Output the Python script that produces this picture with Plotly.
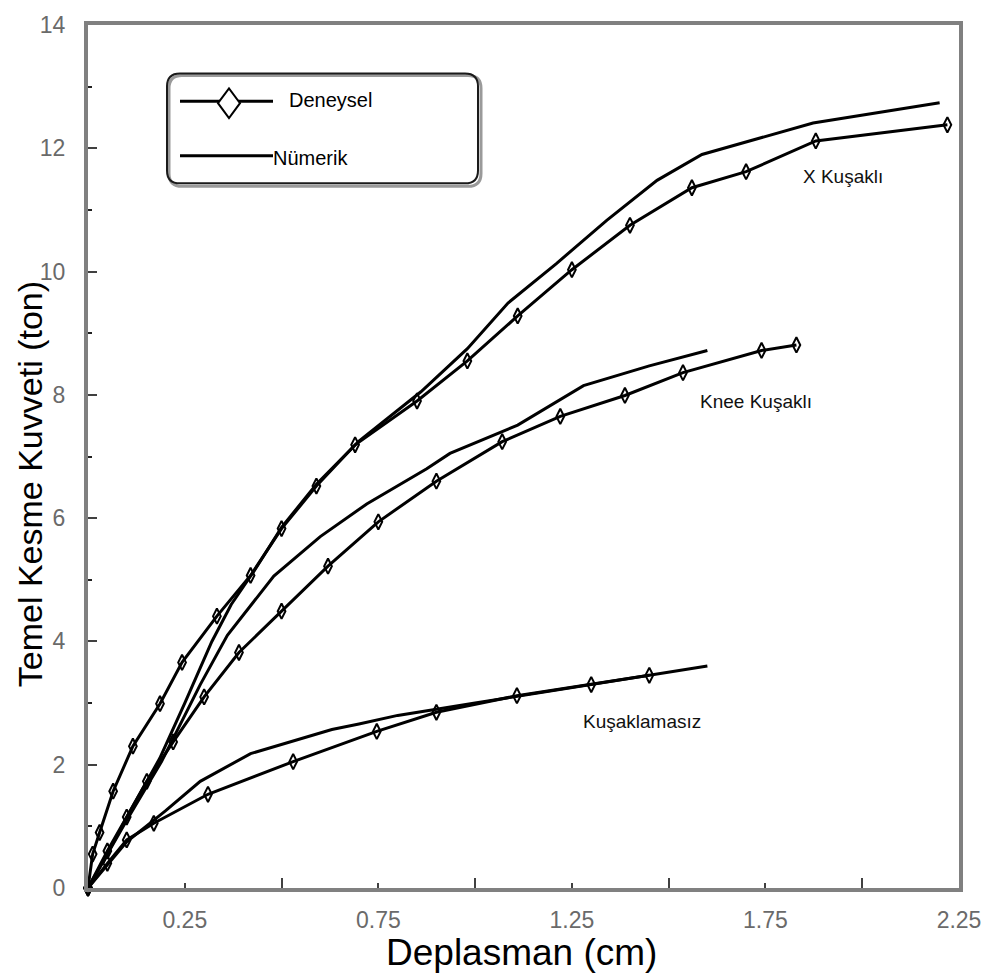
import plotly.graph_objects as go

# ---------------- data ----------------
x_exp_x = [0, 0.012, 0.03, 0.065, 0.116, 0.186, 0.243, 0.333, 0.42, 0.50, 0.59, 0.69, 0.85, 0.98, 1.11, 1.25, 1.40, 1.56, 1.70, 1.88, 2.22]
y_exp_x = [0, 0.55, 0.9, 1.57, 2.3, 2.99, 3.66, 4.41, 5.07, 5.83, 6.52, 7.19, 7.9, 8.55, 9.28, 10.03, 10.75, 11.36, 11.62, 12.12, 12.38]

x_num_x = [0, 0.05, 0.10, 0.185, 0.25, 0.32, 0.37, 0.43, 0.50, 0.59, 0.70, 0.86, 0.98, 1.085, 1.21, 1.34, 1.47, 1.586, 1.873, 2.20]
y_num_x = [0, 0.55, 1.15, 2.1, 3.0, 4.0, 4.6, 5.15, 5.85, 6.55, 7.25, 8.05, 8.75, 9.49, 10.13, 10.83, 11.48, 11.9, 12.41, 12.74]

x_exp_knee = [0, 0.05, 0.10, 0.152, 0.22, 0.30, 0.39, 0.50, 0.62, 0.75, 0.90, 1.07, 1.22, 1.387, 1.537, 1.74, 1.83]
y_exp_knee = [0, 0.6, 1.15, 1.73, 2.37, 3.1, 3.82, 4.49, 5.22, 5.94, 6.6, 7.24, 7.65, 7.99, 8.36, 8.72, 8.81]

x_num_knee = [0, 0.05, 0.10, 0.19, 0.29, 0.36, 0.48, 0.60, 0.72, 0.875, 0.935, 1.11, 1.28, 1.45, 1.60]
y_num_knee = [0, 0.55, 1.1, 2.05, 3.3, 4.1, 5.06, 5.70, 6.23, 6.8, 7.05, 7.51, 8.15, 8.47, 8.72]

x_exp_unb = [0, 0.05, 0.10, 0.17, 0.31, 0.53, 0.746, 0.90, 1.108, 1.30, 1.45]
y_exp_unb = [0, 0.4, 0.78, 1.05, 1.52, 2.05, 2.54, 2.85, 3.12, 3.3, 3.45]

x_num_unb = [0, 0.10, 0.20, 0.29, 0.42, 0.63, 0.70, 0.80, 1.0, 1.2, 1.4, 1.60]
y_num_unb = [0, 0.75, 1.25, 1.73, 2.18, 2.57, 2.66, 2.8, 3.0, 3.2, 3.4, 3.6]

x_ticklabels = [0.25, 0.75, 1.25, 1.75, 2.25]
x_minor = [0.5, 1.0, 1.5, 2.0]
y_ticklabels = [0, 2, 4, 6, 8, 10, 12, 14]
y_minor = [1, 3, 5, 7, 9, 11, 13]

curve_labels = ["X Kuşaklı", "Knee Kuşaklı", "Kuşaklamasız"]
curve_label_x = [1.95, 1.725, 1.43]
curve_label_y = [11.55, 7.9, 2.7]

legend_names = ["Deneysel", "Nümerik"]

# ---------------- figure ----------------
W, H = 994, 980
L, R, T, B = 88, 35, 16, 92
PW, PH = W - L - R, H - T - B

def px(xp):
    return (xp - L) / PW

def py(yp):
    return (H - B - yp) / PH

fig = go.Figure()

line_style = dict(color="black", width=3)
marker_style = dict(symbol="diamond-tall-open", size=11, color="black", line=dict(width=2, color="black"))

for xs, ys in [(x_num_x, y_num_x), (x_num_knee, y_num_knee), (x_num_unb, y_num_unb)]:
    fig.add_trace(go.Scatter(x=xs, y=ys, mode="lines", line=line_style, showlegend=False,
                             name=legend_names[1]))
for xs, ys in [(x_exp_x, y_exp_x), (x_exp_knee, y_exp_knee), (x_exp_unb, y_exp_unb)]:
    fig.add_trace(go.Scatter(x=xs, y=ys, mode="lines+markers", line=line_style, marker=marker_style,
                             showlegend=False, name=legend_names[0], cliponaxis=False))

axis_common = dict(
    showline=True, linecolor="#808080", linewidth=4, mirror=True,
    ticks="inside", tickcolor="#404040", tickwidth=2,
    showgrid=False, zeroline=False,
    tickfont=dict(family="Arial", size=23, color="#6a6a6a"),
)

fig.update_xaxes(range=[0, 2.25], tickvals=x_ticklabels, ticktext=[f"{v:.2f}" for v in x_ticklabels],
                 ticklen=5, ticklabelstandoff=8,
                 minor=dict(tickvals=x_minor, ticks="inside", ticklen=10, tickcolor="#404040", tickwidth=2),
                 **axis_common)
fig.update_yaxes(range=[0, 14], tickvals=y_ticklabels, ticklen=9, ticklabelstandoff=14,
                 minor=dict(tickvals=y_minor, ticks="inside", ticklen=4, tickcolor="#202020", tickwidth=2),
                 **axis_common)

annotations = []
for t, xv, yv in zip(curve_labels, curve_label_x, curve_label_y):
    annotations.append(dict(x=xv, y=yv, xref="x", yref="y", text=t, showarrow=False,
                            xanchor="center", yanchor="middle",
                            font=dict(family="Arial", size=19, color="#111111")))

# axis titles
annotations.append(dict(x=px(521), y=py(953), xref="paper", yref="paper", text="Deplasman (cm)",
                        xanchor="center", yanchor="middle",
                        showarrow=False, font=dict(family="Arial", size=37, color="black")))
annotations.append(dict(x=px(30), y=py(480), xref="paper", yref="paper", text="Temel Kesme Kuvveti (ton)",
                        xanchor="center", yanchor="middle",
                        showarrow=False, textangle=-90, font=dict(family="Arial", size=34, color="black")))

# legend texts
annotations.append(dict(x=px(287), y=py(92), xref="paper", yref="paper", text=legend_names[0],
                        xanchor="left", yanchor="middle", showarrow=False,
                        font=dict(family="Arial", size=20, color="black")))
annotations.append(dict(x=px(271), y=py(150), xref="paper", yref="paper", text=legend_names[1],
                        xanchor="left", yanchor="middle", showarrow=False,
                        font=dict(family="Arial", size=20, color="black")))

# legend box (rounded)
def rounded_path(x0, y0, x1, y1, r):
    def P(a, b):
        return f"{px(a):.5f},{py(b):.5f}"
    return (f"M {P(x0 + r, y0)} L {P(x1 - r, y0)} Q {P(x1, y0)} {P(x1, y0 + r)} "
            f"L {P(x1, y1 - r)} Q {P(x1, y1)} {P(x1 - r, y1)} L {P(x0 + r, y1)} "
            f"Q {P(x0, y1)} {P(x0, y1 - r)} L {P(x0, y0 + r)} Q {P(x0, y0)} {P(x0 + r, y0)} Z")

shapes = []
shapes.append(dict(type="path", xref="paper", yref="paper", path=rounded_path(169, 67, 481, 179, 13),
                   line=dict(color="#9a9a9a", width=3), fillcolor="rgba(0,0,0,0)"))
shapes.append(dict(type="path", xref="paper", yref="paper", path=rounded_path(167, 65, 478, 176, 13),
                   line=dict(color="#1a1a1a", width=2), fillcolor="rgba(0,0,0,0)"))
# legend sample lines
shapes.append(dict(type="line", xref="paper", yref="paper", x0=px(180), x1=px(273), y0=py(93), y1=py(93),
                   line=dict(color="black", width=3)))
shapes.append(dict(type="line", xref="paper", yref="paper", x0=px(180), x1=px(273), y0=py(148), y1=py(148),
                   line=dict(color="black", width=3)))
cx, cy, hw, hh = 229, 95, 11, 15
shapes.append(dict(type="path", xref="paper", yref="paper",
                   path=f"M {px(cx-hw):.5f},{py(cy):.5f} L {px(cx):.5f},{py(cy-hh):.5f} L {px(cx+hw):.5f},{py(cy):.5f} L {px(cx):.5f},{py(cy+hh):.5f} Z",
                   line=dict(color="black", width=2), fillcolor="white"))

fig.update_layout(
    width=W, height=H,
    margin=dict(l=L, r=R, t=T, b=B),
    plot_bgcolor="white", paper_bgcolor="white",
    showlegend=False,
    annotations=annotations,
    shapes=shapes,
)

fig.write_html("out.html")
